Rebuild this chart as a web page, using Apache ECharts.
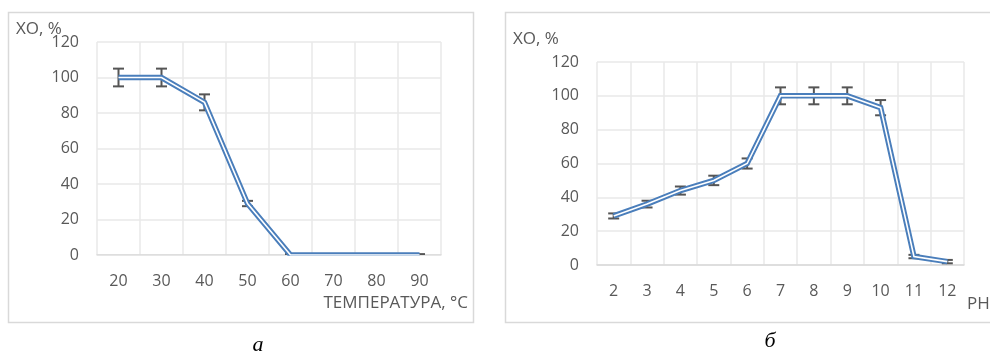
<!DOCTYPE html>
<html>
<head>
<meta charset="utf-8">
<script src="https://cdn.jsdelivr.net/npm/echarts@6/dist/echarts.min.js"></script>
<style>
  html, body { margin: 0; padding: 0; background: #ffffff; }
  #chart { width: 990px; height: 353px; }
</style>
</head>
<body>
<div id="chart"></div>
<script>
// Panel (а): degree of decolorisation vs temperature
const tempCategories = ['20', '30', '40', '50', '60', '70', '80', '90'];
const tempValues = [100, 100, 86, 29, 0, 0, 0, 0];
const tempErrors = [5, 5, 4.5, 1.5, 0.5, 0.5, 0.5, 0.5];

// Panel (б): degree of decolorisation vs pH
const phCategories = ['2', '3', '4', '5', '6', '7', '8', '9', '10', '11', '12'];
const phValues = [29, 36, 44, 50, 60, 100, 100, 100, 93, 5, 2];
const phErrors = [1.5, 2, 2.4, 2.8, 3, 5, 5, 5, 4.5, 1, 1];

// Shared value axis range
const yMin = 0, yMax = 120, yStep = 20;

const TEXT = '#595959';
const GRID_LINE = '#e9e9e9';
const BLUE = '#4a7ebb';
const FONT = 'Open Sans';

const chart = echarts.init(document.getElementById('chart'), null, { renderer: 'canvas' });

function xAxisFor(gridIndex, cats) {
  return {
    type: 'category', gridIndex, data: cats, boundaryGap: true,
    axisLine: { show: true, lineStyle: { color: '#d9d9d9', width: 1.5 } },
    axisTick: { show: false },
    axisLabel: { color: TEXT, fontFamily: FONT, fontSize: 16, margin: 18 },
    splitLine: { show: true, lineStyle: { color: GRID_LINE, width: 1.5 } }
  };
}
function yAxisFor(gridIndex) {
  return {
    type: 'value', gridIndex, min: yMin, max: yMax, interval: yStep,
    axisLine: { show: false }, axisTick: { show: false },
    axisLabel: { color: TEXT, fontFamily: FONT, fontSize: 16, margin: 18 },
    splitLine: { show: true, lineStyle: { color: GRID_LINE, width: 1.5 } }
  };
}

// Error bars: vertical whisker with caps, drawn beneath the line
function errorSeries(idx, values, errors) {
  const data = values.map((v, i) => [i, v - errors[i], v + errors[i]]);
  return {
    type: 'custom', xAxisIndex: idx, yAxisIndex: idx, z: 2, clip: true,
    data,
    renderItem(params, api) {
      const x = api.value(0);
      const lo = api.coord([x, api.value(1)]);
      const hi = api.coord([x, api.value(2)]);
      const cap = 5.5;
      const style = { stroke: '#555555', lineWidth: 2 };
      return {
        type: 'group',
        children: [
          { type: 'line', shape: { x1: lo[0], y1: lo[1], x2: hi[0], y2: hi[1] }, style },
          { type: 'line', shape: { x1: lo[0] - cap, y1: lo[1], x2: lo[0] + cap, y2: lo[1] }, style },
          { type: 'line', shape: { x1: hi[0] - cap, y1: hi[1], x2: hi[0] + cap, y2: hi[1] }, style }
        ]
      };
    }
  };
}

// Double (compound) line: wide blue stroke with a thin white core
function lineSeries(idx, values) {
  return [
    {
      type: 'line', xAxisIndex: idx, yAxisIndex: idx, data: values, z: 3,
      symbol: 'none', smooth: false, clip: true,
      lineStyle: { color: BLUE, width: 5.5, join: 'miter', cap: 'butt' }
    },
    {
      type: 'line', xAxisIndex: idx, yAxisIndex: idx, data: values, z: 4,
      symbol: 'none', smooth: false, clip: true,
      lineStyle: { color: '#ffffff', width: 1.6, join: 'miter', cap: 'butt' }
    }
  ];
}

const option = {
  animation: false,
  backgroundColor: '#ffffff',
  grid: [
    { left: 97, top: 42, width: 344, height: 213 },
    { left: 597, top: 62, width: 367, height: 203 }
  ],
  xAxis: [xAxisFor(0, tempCategories), xAxisFor(1, phCategories)],
  yAxis: [yAxisFor(0), yAxisFor(1)],
  series: [
    errorSeries(0, tempValues, tempErrors),
    ...lineSeries(0, tempValues),
    errorSeries(1, phValues, phErrors),
    ...lineSeries(1, phValues)
  ],
  graphic: [
    // strip below the temperature axis line so the plot ends cleanly at 0
    { type: 'rect', shape: { x: 90, y: 255.8, width: 360, height: 6 },
      style: { fill: '#ffffff' }, z: 50 },
    // panel frames
    { type: 'rect', shape: { x: 8.5, y: 12.5, width: 465, height: 310 },
      style: { fill: 'none', stroke: '#d9d9d9', lineWidth: 1.5 }, z: 0 },
    { type: 'rect', shape: { x: 505.5, y: 12.5, width: 500, height: 310 },
      style: { fill: 'none', stroke: '#d9d9d9', lineWidth: 1.5 }, z: 0 },
    // axis titles
    { type: 'text', left: 16, top: 21,
      style: { text: 'ХО, %', fill: TEXT, font: '17px "Open Sans"' } },
    { type: 'text', right: 990 - 468, top: 295,
      style: { text: 'ТЕМПЕРАТУРА, °С', fill: TEXT, font: '17px "Open Sans"' } },
    { type: 'text', left: 513, top: 31,
      style: { text: 'ХО, %', fill: TEXT, font: '17px "Open Sans"' } },
    { type: 'text', left: 967, top: 296,
      style: { text: 'PH', fill: TEXT, font: '17px "Open Sans"' } },
    // panel captions
    { type: 'text', x: 258, y: 345,
      style: { text: 'а', fill: '#000000', font: 'italic 22px "Liberation Serif"', align: 'center', verticalAlign: 'middle' } },
    { type: 'text', x: 770, y: 341,
      style: { text: 'б', fill: '#000000', font: 'italic 22px "Liberation Serif"', align: 'center', verticalAlign: 'middle' } }
  ]
};

chart.setOption(option);
</script>
</body>
</html>
